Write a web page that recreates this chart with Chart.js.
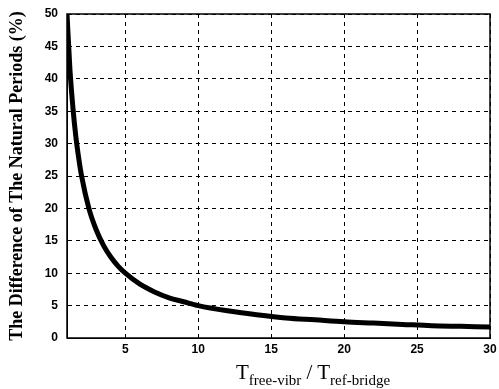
<!DOCTYPE html>
<html><head><meta charset="utf-8">
<script src="https://cdn.jsdelivr.net/npm/chart.js@4/dist/chart.umd.min.js"></script>
<style>
html,body{margin:0;padding:0;background:#fff;}
#wrap{position:relative;width:499px;height:389px;}
#xt{position:absolute;left:236px;top:360px;white-space:nowrap;font-family:"Liberation Serif","Times New Roman",serif;font-size:21px;color:#000;}
#xt sub{font-size:15px;vertical-align:-6px;}
</style></head><body>
<div id="wrap"><canvas id="c" width="499" height="389"></canvas>
<div id="xt">T<sub>free-vibr</sub> / T<sub>ref-bridge</sub></div></div>
<script>
const ratio = [1, 1.2, 1.4, 1.6, 1.8, 2, 2.5, 3, 3.5, 4, 4.5, 5, 6, 7, 8, 9, 10, 12, 14, 16, 18, 20, 22, 24, 26, 28, 30];
const diffPct = [50, 41.5, 35.7, 31.2, 27.8, 25, 20, 16.7, 14.3, 12.5, 11.1, 10, 8.3, 7.1, 6.2, 5.6, 5, 4.2, 3.6, 3.1, 2.8, 2.5, 2.3, 2.1, 1.9, 1.8, 1.7];
const xTicks = [5, 10, 15, 20, 25, 30];
const yTicks = [0, 5, 10, 15, 20, 25, 30, 35, 40, 45, 50];
const yTitle = "The Difference of The Natural Periods (%)";

const boxPlugin = {id:'box', afterDraw(chart){const a=chart.chartArea,ctx=chart.ctx;ctx.save();ctx.strokeStyle='#000';ctx.lineWidth=1.5;ctx.setLineDash([]);ctx.strokeRect(a.left,a.top,a.right-a.left,a.bottom-a.top);ctx.restore();}};
const tickFont = {family:'"Liberation Sans", Arial, sans-serif', size:12, weight:'bold'};
new Chart(document.getElementById('c'), {
  type:'line',
  data:{datasets:[{data: ratio.map((x,i)=>({x:x,y:diffPct[i]})), borderColor:'#000', borderWidth:5, pointRadius:0, cubicInterpolationMode:'monotone', fill:false}]},
  options:{
    responsive:false, animation:false,
    layout:{padding:{top:14,right:9,left:0,bottom:0}},
    plugins:{legend:{display:false},tooltip:{enabled:false}},
    scales:{
      x:{type:'linear',min:1,max:30,
        afterBuildTicks(s){s.ticks=xTicks.map(v=>({value:v}));},
        afterFit(s){s.height=51;s.paddingLeft=0;s.paddingRight=0;},
        grid:{color:'#000',lineWidth:1,drawTicks:false},
        border:{display:true,color:'#000',dash:[4,4]},
        ticks:{color:'#000',font:tickFont,padding:4,maxRotation:0}},
      y:{type:'linear',min:0,max:50,
        afterBuildTicks(s){s.ticks=yTicks.map(v=>({value:v}));},
        afterFit(s){s.width=67;s.paddingTop=0;s.paddingBottom=0;},
        grid:{color:'#000',lineWidth:1,drawTicks:false},
        border:{display:true,color:'#000',dash:[4,4]},
        ticks:{color:'#000',font:tickFont,padding:9},
        title:{display:true,text:yTitle,color:'#000',padding:{top:7,bottom:0},font:{family:'"Liberation Serif","Times New Roman",serif',size:18,weight:'bold'}}}
    }
  },
  plugins:[boxPlugin]
});
</script></body></html>
